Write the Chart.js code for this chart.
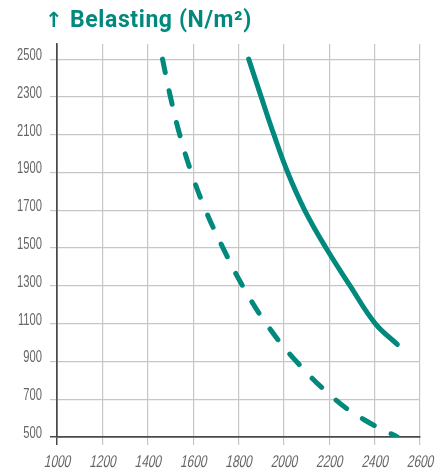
<!DOCTYPE html>
<html>
<head>
<meta charset="utf-8">
<script src="https://cdn.jsdelivr.net/npm/chart.js@4/dist/chart.umd.min.js"></script>
<style>
  html, body { margin: 0; padding: 0; background: #ffffff; }
  #wrap { position: relative; width: 448px; height: 471px; }
  #title {
    position: absolute; left: 45px; top: 8px;
    font: bold 23px Roboto, "Noto Sans", sans-serif; line-height: 23px;
    letter-spacing: 0.6px;
    color: #00897c; white-space: nowrap;
  }
  #title .arrow {
    display: inline-block; width: 25px;
    font: bold 21px "DejaVu Sans", sans-serif; letter-spacing: 0;
  }
  canvas { position: absolute; left: 0; top: 0; }
</style>
</head>
<body>
<div id="wrap">
  <canvas id="chart" width="448" height="471"></canvas>
  <div id="title"><span class="arrow">↑</span>Belasting (N/m²)</div>
</div>
<script>
// Load curves: span (x) against allowed load (y)
const spanSolid = [1845, 1900, 1956, 2017, 2092, 2186, 2292, 2403, 2500];
const loadSolid = [2500, 2300, 2100, 1900, 1700, 1500, 1300, 1100, 990];

const spanDashed = [1465, 1500, 1541, 1592, 1655, 1732, 1818, 1922, 2055, 2225, 2356, 2500];
const loadDashed = [2500, 2300, 2100, 1900, 1700, 1500, 1300, 1100, 900, 700, 590, 500];

// Axis ticks
const xTicks = [1000, 1200, 1400, 1600, 1800, 2000, 2200, 2400, 2600];
const yTicks = [500, 700, 900, 1100, 1300, 1500, 1700, 1900, 2100, 2300, 2500];

const TEAL = '#00897c';
const AXIS = '#4a4a4a';
const GRID = '#c6c6c6';
const LABEL = '#666666';

const toPoints = (xs, ys) => xs.map((x, i) => ({ x: x, y: ys[i] }));

// Condensed tick labels: regular sans squeezed horizontally, placed at the scale's tick pixels
const narrowTickLabels = {
  id: 'narrowTickLabels',
  afterDraw(chart) {
    const ctx = chart.ctx;
    const xs = chart.scales.x;
    const ys = chart.scales.y;
    ctx.save();
    ctx.fillStyle = LABEL;
    ctx.font = '16px "Liberation Sans", Arial, sans-serif';
    ctx.textBaseline = 'alphabetic';

    ctx.textAlign = 'right';
    ys.ticks.forEach(t => {
      const y = ys.getPixelForValue(t.value);
      ctx.save();
      ctx.translate(ys.right - 15, y + 1);
      ctx.scale(0.7, 1);
      ctx.fillText(String(t.value), 0, 0);
      ctx.restore();
    });

    // x labels: condensed and slanted
    ctx.font = '17px "Liberation Sans", Arial, sans-serif';
    ctx.textAlign = 'center';
    xs.ticks.forEach(t => {
      const x = xs.getPixelForValue(t.value);
      ctx.save();
      ctx.translate(x, xs.top + 29.5);
      ctx.transform(0.7, 0, -0.2, 1, 0, 0);
      ctx.fillText(String(t.value), 0, 0);
      ctx.restore();
    });
    ctx.restore();
  }
};

new Chart(document.getElementById('chart'), {
  type: 'line',
  data: {
    datasets: [
      {
        data: toPoints(spanSolid, loadSolid),
        borderColor: TEAL,
        borderWidth: 5,
        borderCapStyle: 'round',
        borderJoinStyle: 'round',
        tension: 0.4,
        pointRadius: 0,
        fill: false
      },
      {
        data: toPoints(spanDashed, loadDashed),
        borderColor: TEAL,
        borderWidth: 5,
        borderDash: [13.5, 19],
        borderCapStyle: 'round',
        borderJoinStyle: 'round',
        tension: 0.4,
        pointRadius: 0,
        fill: false
      }
    ]
  },
  options: {
    responsive: false,
    animation: false,
    events: [],
    layout: { padding: { top: 44, right: 28, left: 0, bottom: 0 } },
    plugins: { legend: { display: false }, tooltip: { enabled: false }, title: { display: false } },
    scales: {
      x: {
        type: 'linear',
        min: 1000,
        max: 2600,
        afterBuildTicks: (s) => { s.ticks = xTicks.map(v => ({ value: v })); },
        afterFit: (s) => { s.height = 34; },
        border: { display: true, color: AXIS, width: 1.5 },
        grid: {
          color: (c) => (c.index === 0 ? AXIS : GRID),
          tickColor: (c) => (c.index === 0 ? AXIS : GRID),
          lineWidth: (c) => (c.index === 0 ? 1.5 : 1.2),
          tickLength: 8
        },
        ticks: { display: false }
      },
      y: {
        type: 'linear',
        min: 500,
        max: 2580,
        afterBuildTicks: (s) => { s.ticks = yTicks.map(v => ({ value: v })); },
        afterFit: (s) => { s.width = 57; },
        border: { display: true, color: AXIS, width: 1.5 },
        grid: {
          color: (c) => (c.index === 0 ? AXIS : GRID),
          tickColor: (c) => (c.index === 0 ? AXIS : GRID),
          lineWidth: (c) => (c.index === 0 ? 1.5 : 1.2),
          tickLength: 7
        },
        ticks: { display: false }
      }
    }
  },
  plugins: [narrowTickLabels]
});
</script>
</body>
</html>
